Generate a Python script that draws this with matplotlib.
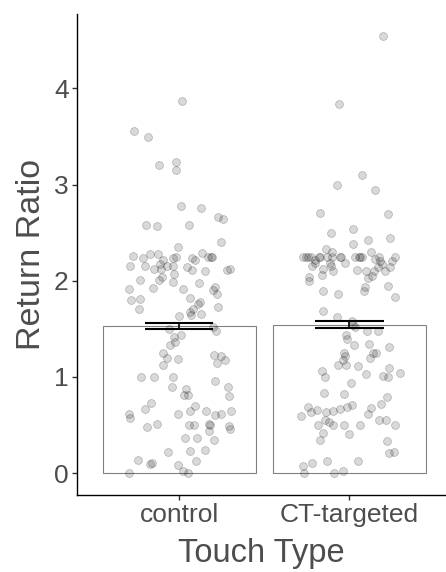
import numpy as np
import matplotlib
matplotlib.use("Agg")
import matplotlib.pyplot as plt

# --- Data ---
groups = ["control", "CT-targeted"]
group_means = [1.53, 1.545]
group_se = [0.035, 0.035]

control_vals = [3.87, 3.56, 3.49, 3.20, 3.235, 3.155, 2.777, 2.76, 2.66, 2.64, 2.58, 2.57, 2.58, 2.40, 2.35,
                2.26, 2.24, 2.28, 2.28, 2.215, 2.24, 2.25, 2.24, 2.215, 2.285, 2.25, 2.25, 2.25,
                2.15, 2.15, 2.12, 2.17, 2.12, 2.15, 2.15, 2.07, 2.14, 2.11, 2.10, 2.115, 2.12,
                2.01, 2.01, 2.035, 1.99, 1.98, 1.91, 1.92, 1.91, 1.94, 1.90, 1.86, 1.80, 1.81, 1.82,
                1.78, 1.76, 1.71, 1.71, 1.68, 1.64, 1.65, 1.73, 1.63, 1.50, 1.42, 1.44, 1.36, 1.33,
                1.52, 1.48, 1.25, 1.20, 1.19, 1.12, 1.23, 1.22, 1.18, 1.15, 1.00, 1.00, 1.00, 0.96,
                0.90, 0.90, 0.87, 0.81, 0.81, 0.80, 0.73, 0.67, 0.70, 0.65, 0.61, 0.575, 0.62, 0.645,
                0.60, 0.61, 0.645, 0.48, 0.51, 0.50, 0.50, 0.51, 0.505, 0.44, 0.495, 0.46, 0.37, 0.37,
                0.34, 0.22, 0.235, 0.24, 0.13, 0.14, 0.10, 0.11, 0.09, 0.00, 0.02, 0.00]
control_jitter = [0.016, -0.267, -0.183, -0.121, -0.018, -0.021, 0.01, 0.129, 0.23, 0.255, -0.193, -0.13, 0.058, 0.247, -0.006,
                  -0.27, -0.21, -0.17, -0.125, -0.095, -0.037, -0.018, 0.074, 0.094, 0.133, 0.17, 0.185, 0.19,
                  -0.29, -0.20, -0.15, -0.11, -0.105, -0.07, -0.037, -0.03, 0.047, 0.074, 0.154, 0.28, 0.30,
                  -0.23, -0.12, -0.10, -0.037, 0.115, -0.296, -0.154, 0.025, 0.21, 0.197, 0.22, -0.285, -0.23, 0.066,
                  0.12, 0.11, -0.236, 0.084, 0.066, 0.07, 0.129, 0.228, -0.002, -0.057, -0.033, 0.012, -0.023, -0.053,
                  0.2, 0.216, -0.094, -0.072, -0.008, -0.097, 0.205, 0.246, 0.267, 0.22, -0.226, -0.148, -0.035, 0.21,
                  0.288, -0.041, 0.041, 0.031, 0.053, 0.29, -0.164, -0.2, 0.092, 0.064, -0.296, -0.29, -0.004, 0.158,
                  0.212, 0.245, 0.304, -0.19, -0.13, 0.057, 0.086, 0.177, 0.18, 0.177, 0.294, 0.298, 0.033, 0.105,
                  0.205, -0.066, 0.064, 0.152, 0.1, -0.242, -0.17, -0.158, -0.004, -0.296, 0.025, 0.05]

ct_vals = [4.547, 3.84, 3.097, 3.00, 2.94, 2.70, 2.69, 2.54, 2.50, 2.44, 2.42, 2.38, 2.33, 2.30, 2.295,
           2.25, 2.25, 2.25, 2.25, 2.25, 2.25, 2.25, 2.25, 2.25, 2.25, 2.25, 2.25, 2.25, 2.25, 2.25, 2.25,
           2.215, 2.19, 2.19, 2.155, 2.19, 2.225, 2.21, 2.175, 2.21, 2.155, 2.12, 2.105, 2.11, 2.105,
           2.105, 2.14, 2.105, 2.14, 2.06, 2.04, 2.00, 2.03, 2.05, 1.89, 1.86, 1.89, 1.94, 1.95, 1.835,
           1.69, 1.62, 1.58, 1.54, 1.52, 1.475, 1.48, 1.44, 1.39, 1.33, 1.34, 1.31, 1.25, 1.22, 1.245,
           1.25, 1.20, 1.18, 1.125, 1.12, 1.11, 1.06, 1.00, 1.03, 1.01, 1.00, 1.09, 1.04, 0.935,
           0.83, 0.825, 0.79, 0.72, 0.69, 0.64, 0.66, 0.59, 0.635, 0.65, 0.67, 0.685, 0.71, 0.68, 0.62,
           0.55, 0.53, 0.50, 0.505, 0.505, 0.505, 0.555, 0.555, 0.50, 0.42, 0.41, 0.34, 0.33, 0.21,
           0.215, 0.125, 0.11, 0.125, 0.07, 0.00, 0.00, 0.02]
ct_jitter = [0.197, -0.062, 0.076, -0.072, 0.148, -0.174, 0.228, 0.023, -0.109, 0.24, 0.111, 0.023, -0.139, -0.105, 0.125,
             -0.271, -0.257, -0.244, -0.228, -0.18, -0.174, -0.13, -0.101, -0.058, -0.05, 0.035, 0.055, 0.064, 0.074, 0.171, 0.267,
             -0.205, -0.205, -0.117, -0.111, -0.025, 0.152, 0.181, 0.19, 0.25, -0.218, -0.156, -0.098, 0.047, 0.10,
             0.144, 0.17, 0.206, 0.24, -0.16, -0.238, -0.238, 0.109, 0.133, -0.154, -0.07, 0.084, 0.094, 0.224, 0.269,
             -0.154, -0.072, 0.016, 0.02, 0.035, 0.105, 0.168, -0.023, -0.016, 0.027, 0.117, 0.23, -0.033, -0.029, 0.136,
             0.156, 0.123, -0.037, -0.068, -0.02, 0.05, -0.164, -0.146, 0.1, 0.195, 0.226, 0.23, 0.294, 0.012,
             -0.15, -0.031, 0.222, 0.185, -0.242, -0.224, -0.193, -0.282, -0.14, -0.098, -0.054, -0.012, 0.016, 0.125, 0.109,
             -0.144, -0.121, -0.187, -0.094, -0.031, 0.06, 0.171, 0.216, 0.269, -0.158, 0.0, -0.17, 0.222, 0.23,
             0.259, 0.053, -0.22, -0.133, -0.273, -0.267, -0.092, -0.039]

# --- Figure ---
fig = plt.figure(figsize=(4.46, 5.72), dpi=100)
ax = fig.add_axes([0.1726, 0.1346, 0.8274, 0.841])

xpos = np.arange(1, len(groups) + 1)
text_grey = "#4d4d4d"

# bars
ax.bar(xpos, group_means, width=0.9, color="white", edgecolor="#808080", linewidth=0.8, zorder=1)

# jittered points
for x0, vals, jit in [(1, control_vals, control_jitter), (2, ct_vals, ct_jitter)]:
    ax.scatter(x0 + np.array(jit), vals, s=32, facecolor=(0, 0, 0, 0.15),
               edgecolor=(0, 0, 0, 0.22), linewidth=0.6, zorder=2)

# error bars
for x0, m, se in zip(xpos, group_means, group_se):
    ax.hlines([m - se, m + se], x0 - 0.2, x0 + 0.2, color="black", linewidth=1.5, zorder=3)
    ax.vlines(x0, m - se, m + se, color="black", linewidth=1.2, zorder=3)

ax.set_xlim(0.4, 2.567)
ax.set_ylim(-0.227, 4.774)
ax.set_xticks(xpos)
ax.set_xticklabels(groups)
ax.set_yticks([0, 1, 2, 3, 4])

for side in ["top", "right"]:
    ax.spines[side].set_visible(False)
for side in ["left", "bottom"]:
    ax.spines[side].set_linewidth(1.0)
    ax.spines[side].set_color("black")

ax.tick_params(axis="both", length=3.5, width=1.0, color="#333333",
               labelsize=19, labelcolor=text_grey, pad=2.5)
for lab in ax.get_xticklabels() + ax.get_yticklabels():
    lab.set_family("Liberation Sans")

ax.set_xlabel("Touch Type", fontsize=23.5, color=text_grey, family="Liberation Sans", labelpad=8)
ax.set_ylabel("Return Ratio", fontsize=24.5, color=text_grey, family="Liberation Sans", labelpad=5)

fig.savefig("out.png", dpi=100)
